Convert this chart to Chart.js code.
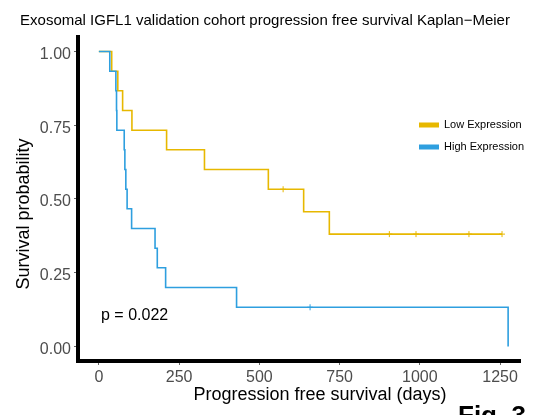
<!DOCTYPE html>
<html>
<head>
<meta charset="utf-8">
<script src="https://cdn.jsdelivr.net/npm/chart.js@4.4.0/dist/chart.umd.min.js"></script>
<style>
  html, body { margin: 0; padding: 0; background: #fff; }
  #wrap { width: 545px; height: 415px; position: relative; }
</style>
</head>
<body>
<div id="wrap"><canvas id="grafico_km"></canvas></div>
<script>
// curva baixa expressão (tempo do evento, sobrevida depois do evento)
const low_tempos = [0, 40, 59, 74, 103, 211, 329, 528, 638, 718, 1256];
const low_sobrevida = [1, 0.933, 0.867, 0.8, 0.733, 0.667, 0.6, 0.533, 0.457, 0.381, 0.381];
const low_censura_tempos = [574, 905, 988, 1153, 1256];
const low_censura_sobrevida = [0.533, 0.381, 0.381, 0.381, 0.381];

// curva alta expressão
const high_tempos = [0, 34, 53, 55, 56, 79, 81, 84, 88, 102, 175, 182, 208, 429, 1275];
const high_sobrevida = [1, 0.933, 0.867, 0.8, 0.733, 0.667, 0.6, 0.533, 0.467, 0.4, 0.333, 0.267, 0.2, 0.133, 0];
const high_censura_tempos = [658];
const high_censura_sobrevida = [0.133];

const x_ticks = [0, 250, 500, 750, 1000, 1250];
const x_tick_labels = ['0', '250', '500', '750', '1000', '1250'];
const y_ticks = [0, 0.25, 0.5, 0.75, 1];
const y_tick_labels = ['0.00', '0.25', '0.50', '0.75', '1.00'];

const grupos = ['Low Expression', 'High Expression'];
const cor_low = '#E7B800';
const cor_high = '#2E9FDF';

const fonte = "'Liberation Sans', Arial, Helvetica, sans-serif";

function pontos(xs, ys) {
    return xs.map((x, i) => ({ x: x, y: ys[i] }));
}

/* textos desenhados por cima */
const textos = {
    id: 'textos',
    afterDraw(chart) {
        const ctx = chart.ctx;
        ctx.save();
        ctx.fillStyle = '#000';
        ctx.textBaseline = 'middle';

        ctx.font = '15px ' + fonte;
        ctx.textAlign = 'center';
        ctx.fillText('Exosomal IGFL1 validation cohort progression free survival Kaplan\u2212Meier', 265, 21);

        ctx.font = '18px ' + fonte;
        ctx.fillText('Progression free survival (days)', 320, 395);

        ctx.save();
        ctx.translate(24, 214);
        ctx.rotate(-Math.PI / 2);
        ctx.fillText('Survival probability', 0, 0);
        ctx.restore();

        ctx.font = '16px ' + fonte;
        ctx.textAlign = 'left';
        ctx.fillText('p = 0.022', 101, 316);

        // legenda
        const cores = [cor_low, cor_high];
        const ys = [125, 147];
        ctx.font = '11px ' + fonte;
        for (let i = 0; i < grupos.length; i++) {
            ctx.fillStyle = cores[i];
            ctx.fillRect(419, ys[i] - 2.5, 20, 5);
            ctx.fillStyle = '#000';
            ctx.fillText(grupos[i], 444, ys[i]);
        }

        ctx.font = 'bold 26px ' + fonte;
        ctx.textBaseline = 'alphabetic';
        ctx.fillText('Fig. 3', 458, 424);
        ctx.restore();
    }
};

const data_km = {
    datasets: [
        {
            label: grupos[1],
            data: pontos(high_tempos, high_sobrevida),
            borderColor: cor_high,
            borderWidth: 1.6,
            stepped: 'before',
            pointRadius: 0,
            fill: false
        },
        {
            label: grupos[1] + ' censored',
            type: 'scatter',
            data: pontos(high_censura_tempos, high_censura_sobrevida),
            pointStyle: 'cross',
            pointRadius: 3,
            borderColor: cor_high,
            borderWidth: 1
        },
        {
            label: grupos[0],
            data: pontos(low_tempos, low_sobrevida),
            borderColor: cor_low,
            borderWidth: 1.6,
            stepped: 'before',
            pointRadius: 0,
            fill: false
        },
        {
            label: grupos[0] + ' censored',
            type: 'scatter',
            data: pontos(low_censura_tempos, low_censura_sobrevida),
            pointStyle: 'cross',
            pointRadius: 3,
            borderColor: cor_low,
            borderWidth: 1
        }
    ]
};

const config_km = {
    type: 'line',
    data: data_km,
    plugins: [textos],
    options: {
        responsive: true,
        maintainAspectRatio: false,
        animation: false,
        layout: {
            padding: { top: 37, right: 25, left: 0, bottom: 0 }
        },
        scales: {
            x: {
                type: 'linear',
                min: -65,
                max: 1312,
                afterBuildTicks: scale => { scale.ticks = x_ticks.map(v => ({ value: v })); },
                afterFit: scale => { scale.height = 54; },
                border: { display: true, color: '#000', width: 4 },
                grid: { drawOnChartArea: false, drawTicks: true, tickLength: 4, color: '#666', lineWidth: 1 },
                ticks: {
                    padding: 3,
                    color: '#4D4D4D',
                    maxRotation: 0,
                    font: { size: 16, family: fonte },
                    callback: value => x_tick_labels[x_ticks.indexOf(value)]
                }
            },
            y: {
                type: 'linear',
                min: -0.049,
                max: 1.049,
                afterBuildTicks: scale => { scale.ticks = y_ticks.map(v => ({ value: v })); },
                afterFit: scale => { scale.width = 78; },
                border: { display: true, color: '#000', width: 4 },
                grid: { drawOnChartArea: false, drawTicks: true, tickLength: 4, color: '#666', lineWidth: 1 },
                ticks: {
                    padding: 3,
                    labelOffset: 3,
                    color: '#4D4D4D',
                    font: { size: 16, family: fonte },
                    callback: value => y_tick_labels[y_ticks.indexOf(value)]
                }
            }
        },
        plugins: {
            legend: { display: false },
            title: { display: false },
            tooltip: { enabled: false }
        }
    }
};

const grafico_km = new Chart(document.getElementById('grafico_km'), config_km);
</script>
</body>
</html>
